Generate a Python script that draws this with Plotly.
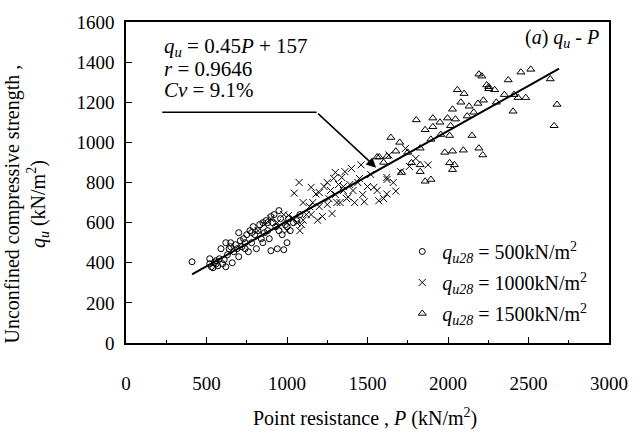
import numpy as np
import plotly.graph_objects as go

# qu28 = 500 kN/m2
p_500 = [410, 520, 530, 540, 550, 560, 570, 580, 600, 610, 620, 630, 640, 650, 660, 670, 680, 690,
         700, 710, 720, 730, 740, 750, 760, 770, 780, 790, 800, 810, 820, 830, 840, 850, 860, 870,
         880, 890, 900, 910, 920, 930, 940, 950, 960, 970, 980, 990, 1000, 1010, 1020, 1040, 1060,
         1080, 520, 560, 590, 620, 650, 700, 740, 780, 850, 880, 900, 950, 1000]
q_500 = [405, 395, 380, 375, 400, 410, 385, 420, 395, 415, 380, 440, 470, 480, 400, 455, 490, 470,
         430, 510, 480, 520, 500, 540, 455, 560, 500, 580, 540, 470, 560, 590, 520, 600, 550, 610,
         560, 520, 460, 600, 640, 580, 470, 660, 620, 540, 465, 590, 500, 620, 560, 600, 610,
         640, 420, 395, 470, 500, 500, 550, 470, 550, 500, 600, 630, 560, 580]

# qu28 = 1000 kN/m2
p_1000 = [820, 860, 900, 940, 980, 1000, 1010, 1040, 1045, 1060, 1075, 1080, 1090, 1100, 1120, 1140,
          1150, 1160, 1180, 1190, 1200, 1220, 1230, 1250, 1260, 1270, 1280, 1290, 1300, 1310, 1320,
          1330, 1340, 1350, 1360, 1370, 1380, 1390, 1400, 1410, 1420, 1440, 1460, 1470, 1480, 1500,
          1520, 1540, 1560, 1570, 1600, 1620, 1621, 1620, 1633, 1660, 1676, 1706, 1736, 1760, 1800,
          1876, 1150, 1250, 1350, 1450, 1200, 1300, 1100, 1000, 950]
q_1000 = [560, 590, 620, 600, 640, 600, 636, 620, 747, 600, 800, 560, 590, 612, 640, 680,
          776, 700, 743, 612, 680, 631, 780, 800, 720, 760, 645, 820, 740, 700, 790,
          700, 825, 760, 854, 720, 728, 790, 870, 760, 700, 800, 888, 740, 704, 780,
          840, 776, 760, 709, 720, 825, 815, 743, 937, 800, 757, 854, 970, 880, 920,
          888, 640, 690, 780, 820, 750, 850, 700, 560, 580]

# qu28 = 1500 kN/m2
p_1500 = [1560, 1573, 1621, 1645, 1676, 1712, 1773, 1803, 1827, 1827, 1827, 1858, 1858, 1894, 1894,
          1906, 1906, 1955, 1997, 2010, 2010, 2016, 2028, 2028, 2028, 2040, 2046, 2058, 2095, 2100,
          2119, 2131, 2149, 2186, 2192, 2192, 2216, 2210, 2240, 2253, 2253, 2290, 2350, 2374, 2404,
          2410, 2435, 2453, 2483, 2514, 2635, 2659, 2677, 1700, 1750, 1950, 2080, 2160, 2220, 2300,
          1980, 1600]
q_1500 = [927, 927, 930, 1024, 956, 850, 898, 1112, 971, 888, 854, 1063, 806, 1015, 815,
          1121, 1078, 1039, 1121, 1034, 898, 1083, 1165, 956, 864, 888, 1116, 1262, 961, 1243,
          1131, 1180, 1034, 1194, 1340, 971, 937, 1330, 1286, 1277, 1267, 1262, 1238, 1311, 1155,
          1238, 1223, 1350, 1223, 1364, 1316, 1083, 1189, 1000, 950, 1100, 1200, 1150, 1210, 1200,
          950, 900]

# regression qu = 0.45P + 157
slope, intercept = 0.45, 157
p_fit = np.array([410, 2690])
stats_lines = ["<i>q<sub>u</sub></i> = 0.45<i>P</i> + 157", "<i>r</i> = 0.9646", "<i>Cv</i> = 9.1%"]

FONT = "Times New Roman, Liberation Serif, serif"
BLACK = "black"

fig = go.Figure()
fig.add_trace(go.Scatter(x=p_500, y=q_500, mode="markers", legendgroup="a",
                         name="<i>q<sub>u28</sub></i> = 500kN/m<sup>2</sup>",
                         marker=dict(symbol="circle-open", size=6, color=BLACK, line=dict(width=1))))
fig.add_trace(go.Scatter(x=p_1000, y=q_1000, mode="markers", legendgroup="b",
                         name="<i>q<sub>u28</sub></i> = 1000kN/m<sup>2</sup>",
                         marker=dict(symbol="x-thin-open", size=7, color=BLACK, line=dict(width=1))))
fig.add_trace(go.Scatter(x=p_1500, y=q_1500, mode="markers", legendgroup="c",
                         name="<i>q<sub>u28</sub></i> = 1500kN/m<sup>2</sup>",
                         marker=dict(symbol="triangle-up-open", size=7, color=BLACK, line=dict(width=1))))
fig.add_trace(go.Scatter(x=p_fit, y=slope * p_fit + intercept, mode="lines", showlegend=False,
                         line=dict(color=BLACK, width=2)))

axis_common = dict(showline=True, linecolor=BLACK, linewidth=1.5, mirror=True, showgrid=False,
                   zeroline=False, ticks="inside", ticklen=6, tickcolor=BLACK,
                   tickfont=dict(family=FONT, size=19, color=BLACK))
fig.update_xaxes(range=[0, 3000], dtick=500, ticklabelstandoff=22,
                 minor=dict(ticks="inside", ticklen=3, dtick=250, tickcolor=BLACK), **axis_common)
fig.update_yaxes(range=[0, 1600], dtick=200, ticklabelstandoff=6, **axis_common)

# regression text, one line each, with underline and arrow
for line_text, y_txt in zip(stats_lines, [1474, 1367, 1261]):
    fig.add_annotation(x=225, y=y_txt, xref="x", yref="y", xanchor="left", yanchor="middle",
                       showarrow=False, text=line_text, font=dict(family=FONT, size=21, color=BLACK))
fig.add_shape(type="line", x0=225, x1=1184, y0=1150, y1=1150, xref="x", yref="y",
              line=dict(color=BLACK, width=1.5))
fig.add_annotation(x=1554, y=874, ax=1184, ay=1150, xref="x", yref="y", axref="x", ayref="y",
                   text="", showarrow=True, arrowhead=2, arrowsize=1.3, arrowwidth=1.5, arrowcolor=BLACK)

fig.add_annotation(x=0.984, y=0.948, xref="paper", yref="paper", xanchor="right", yanchor="middle",
                   showarrow=False, text="(<i>a</i>) <i>q<sub>u</sub></i> - <i>P</i>",
                   font=dict(family=FONT, size=20, color=BLACK))

fig.add_annotation(x=0.494, y=-0.233, xref="paper", yref="paper", xanchor="center", yanchor="middle",
                   showarrow=False, text="Point resistance , <i>P</i> (kN/m<sup>2</sup>)",
                   font=dict(family=FONT, size=20, color=BLACK))
fig.add_annotation(x=-0.208, y=0.433, xref="paper", yref="paper", xanchor="center", yanchor="middle",
                   textangle=-90, showarrow=False,
                   text="Unconfined compressive strength ,<br><i>q<sub>u</sub></i> (kN/m<sup>2</sup>)",
                   font=dict(family=FONT, size=20, color=BLACK))

fig.update_layout(
    width=640, height=434,
    margin=dict(l=126, r=20, t=13, b=91),
    plot_bgcolor="white", paper_bgcolor="white",
    font=dict(family=FONT, size=20, color=BLACK),
    legend=dict(x=0.572, y=0.346, xanchor="left", yanchor="top", bgcolor="rgba(0,0,0,0)",
                font=dict(family=FONT, size=20, color=BLACK), itemwidth=30, tracegroupgap=2),
)

# drop the default 8px body margin so the figure sits at the window corner
fig.write_html("out.html", config={"displayModeBar": False},
               post_script="document.body.style.margin='0px';")
